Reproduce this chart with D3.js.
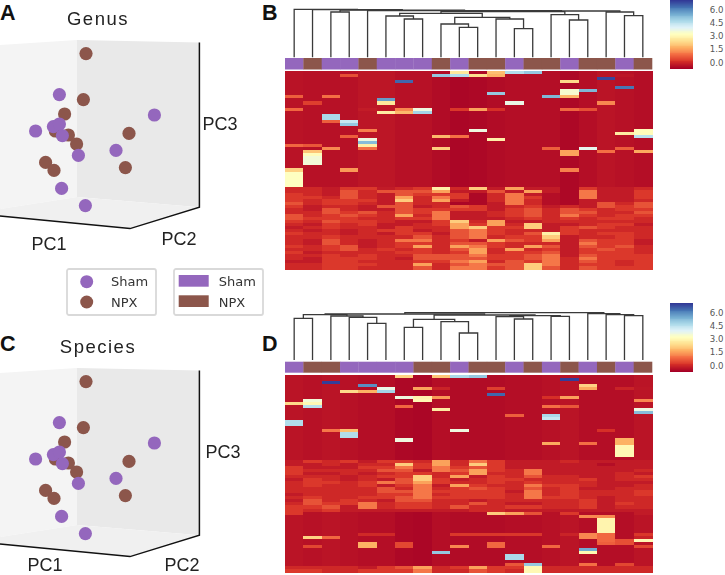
<!DOCTYPE html>
<html><head><meta charset="utf-8">
<script src="https://cdn.jsdelivr.net/npm/d3@7"></script>
<style>html,body{margin:0;padding:0;background:#fff}svg{display:block}.soft{filter:blur(.7px)}.mild{filter:blur(.35px)}</style>
</head><body><div id="chart"></div>
<script>
// ---------- data ----------
const groups = ["Sham", "NPX"];
const groupColors = ["#9467bd", "#8c564b"];
const axisLabels = ["PC1", "PC2", "PC3"];
const colorTicks = [0, 1.5, 3, 4.5, 6];

// projected PCoA coordinates (same in both 3-D panels)
const shamX = [29.7, 77.2, 17.8, 26.7, 29.7, 31.2, 39.2, 58, 30.8, 42.7];
const shamY = [67.7, 57.5, 49.5, 51.7, 53, 47.2, 37.3, 39.8, 20.8, 12.2];
const npxX = [43, 41.7, 32.3, 34.2, 27.7, 38.3, 64.5, 62.7, 22.8, 27];
const npxY = [88.2, 65.2, 58, 47.5, 49.5, 43, 48.3, 31.2, 33.8, 29.8];

// sample group per column (0 Sham, 1 NPX)
const groupsB = [0,1,0,0,1,0,0,0,1,0,1,1,0,1,1,0,1,1,0,1];
const groupsD = [0,1,1,0,0,0,0,1,1,0,1,1,0,1,0,1,0,1,0,1];

// column background abundance
const baseB = [-.35,-.38,-.38,-.38,-.3,-.3,-.38,-.38,-.46,-.56,-.52,-.46,-.42,-.42,-.42,-.52,-.42,-.33,-.38,-.42];
const baseD = [-.33,-.38,-.33,-.38,-.42,-.42,-.52,-.56,-.42,-.46,-.46,-.46,-.42,-.42,-.38,-.33,-.42,-.42,-.42,-.33];

// abundance bands used in the dense lower blocks
const levelValues = [null, -.22, -.02, .22, .55, 1.0, 1.5, 2.1, 2.8];

const denseStartB = 38;
const denseB = [
[2,2,1,3,3,1,2,3,8,2,7,1,6,1,1,0,3,1,1,2],
[2,2,1,4,2,4,4,4,6,1,1,4,1,6,1,0,5,1,1,3],
[3,2,1,4,2,1,4,3,3,3,0,2,5,1,0,0,5,1,1,3],
[3,3,2,4,2,1,6,2,5,3,0,2,5,3,0,0,5,1,1,3],
[3,2,3,3,3,1,7,2,6,1,0,2,5,2,0,0,1,1,1,2],
[4,2,3,3,2,1,4,2,2,0,0,1,5,2,0,0,1,4,2,4],
[3,1,2,2,1,4,4,1,2,4,3,1,2,3,1,2,1,4,3,4],
[2,1,4,2,1,1,4,3,3,3,3,1,3,4,2,4,3,2,3,3],
[2,2,4,3,4,2,4,3,5,1,1,2,3,4,2,4,4,2,2,4],
[4,2,3,4,3,2,6,2,5,1,1,2,3,4,2,5,3,2,3,3],
[4,3,3,3,2,2,3,3,5,1,1,1,2,3,2,3,2,3,3,2],
[3,2,4,3,3,2,1,1,3,7,2,6,1,1,2,2,2,2,2,2],
[2,1,3,2,3,1,1,2,3,6,3,6,2,7,1,1,2,3,3,1],
[1,2,3,2,2,1,3,2,2,6,7,3,3,7,1,3,4,3,2,2],
[2,1,2,1,2,3,3,1,2,4,5,3,2,2,1,3,2,2,2,2],
[3,2,2,1,2,1,3,3,1,4,5,3,2,4,8,3,2,3,3,2],
[2,2,3,2,2,2,2,4,2,4,5,2,3,3,7,1,2,2,3,2],
[2,1,4,2,1,2,5,5,2,3,1,6,4,3,6,1,4,3,3,1],
[2,1,4,2,1,2,3,3,2,4,4,3,2,2,2,1,5,3,3,1],
[3,2,3,4,1,2,3,6,2,6,5,3,2,6,4,1,4,3,4,2],
[2,2,3,4,2,3,2,3,2,4,6,2,6,2,3,1,3,4,3,2],
[3,1,2,2,2,2,3,3,2,3,6,2,3,3,4,1,3,3,3,2],
[2,2,3,2,3,2,2,4,4,4,5,3,3,4,5,1,4,3,3,3],
[2,1,3,3,3,2,1,4,4,4,4,3,3,4,5,2,5,3,3,3],
[1,1,3,3,2,2,2,3,3,5,6,2,4,3,5,2,4,3,2,3],
[2,2,3,3,3,2,2,6,2,4,5,4,4,7,5,2,3,3,2,3],
[2,2,3,3,2,2,2,4,2,5,5,3,4,7,4,2,4,3,3,3]
];
// [row, column, value]
const spotsB = [
[0,9,2.6],[1,9,4.6],[1,10,2.4],[0,11,1.9],[1,11,1.7],[0,12,4.6],[0,13,5],[1,3,.5],[1,8,5],
[3,6,6.4],[3,15,2.3],[2,17,6.8],[1,18,-.3],[5,18,6.2],[6,15,3.4],[7,15,3.4],[8,15,1.8],[6,16,5.3],[7,11,5],[8,14,5.3],[8,0,.7],[8,2,.9],
[9,5,5.7],[10,5,2.6],[13,5,2.7],[10,1,.3],[12,0,.8],[12,4,-.2],[12,6,1.2],[13,6,1.8],[12,7,3.6],[13,7,4.8],[12,9,.2],[12,10,1.5],[12,11,.1],[10,12,3.7],[12,15,.8],[12,16,.5],[10,17,1.2],
[14,2,4.7],[15,2,4.7],[16,2,.7],[16,3,4.3],[17,3,5],[19,4,1.1],[19,10,3.6],[20,18,2.7],[19,19,3.1],[20,19,3.1],[21,19,4.5],[21,3,.7],[21,8,1.8],[21,9,.9],
[22,4,3.6],[23,4,5.2],[24,4,2.8],[25,4,.9],[22,11,2.8],[24,0,.8],[24,1,.6],[25,2,1.2],[25,8,2.1],[25,14,.7],[25,16,3.8],[25,18,.7],[26,15,1.5],[27,15,1.5],[26,17,.9],[26,19,1.6],
[26,1,2],[27,1,3.1],[28,1,3.5],[29,1,3.5],[30,1,3.5],[32,3,1.4],[32,15,1.1],[32,0,2.2],[33,0,3.2],[34,0,3.2],[35,0,3.2],[36,0,3.2],[37,0,3.2]
];

const denseStartD = 28;
const denseD = [
[1,3,2,3,1,3,3,2,6,2,5,3,1,1,1,2,1,1,1,1],
[1,1,2,1,2,2,7,3,6,2,7,3,1,1,1,1,1,0,1,1],
[3,1,1,1,3,3,5,3,5,3,4,3,1,1,1,1,1,1,1,1],
[3,2,2,2,2,4,4,1,5,4,6,3,2,5,1,1,1,1,1,2],
[3,1,1,2,1,2,3,3,2,3,6,2,2,5,1,1,1,1,2,1],
[2,2,2,1,2,3,3,7,2,6,1,3,2,4,2,2,1,1,2,3],
[1,3,2,1,2,1,4,7,3,1,2,3,3,2,2,2,3,1,2,2],
[2,3,3,2,3,5,4,6,3,2,2,3,2,3,2,2,2,1,1,1],
[2,3,2,2,3,1,3,5,1,6,3,2,2,5,3,3,2,1,1,2],
[2,2,2,2,2,4,2,5,2,3,4,3,2,4,2,3,1,1,2,2],
[2,2,2,2,2,4,4,5,3,3,3,3,1,5,2,3,2,2,2,3],
[1,2,2,2,2,3,3,5,2,3,3,3,2,5,2,3,2,2,2,3],
[2,3,2,2,3,3,4,5,3,3,3,3,2,5,3,3,2,1,2,2],
[1,4,2,3,2,1,4,4,2,2,1,2,2,2,2,2,3,1,2,2],
[2,4,3,3,5,2,3,3,2,2,4,2,1,1,2,2,3,1,3,2],
[3,3,4,1,5,2,3,3,2,4,2,2,3,3,2,2,3,1,2,2],
[3,2,3,1,1,1,1,1,1,1,2,2,1,1,1,1,1,1,1,1],
[3,0,0,0,0,0,0,0,0,0,0,7,6,4,0,3,0,0,0,1]
];
const tailStartD = 63;
const tailD = [
[2,2,2,2,1,3,4,6,2,3,6,3,3,3,2,2,2,2,2,2],
[3,3,2,2,3,3,3,5,2,2,4,3,2,3,2,2,2,2,2,2]
];
const spotsD = [
[0,6,2.2],[0,8,2],[0,9,4.7],[0,10,5],[2,2,6.9],[1,15,6.9],[3,16,2.2],[4,16,1.6],[3,4,5.9],[5,4,1.7],[5,3,2.3],[4,5,3.7],[5,5,4.8],[4,7,1.5],[4,8,-.1],[4,11,.3],[4,18,-.1],[4,19,-.3],[6,11,6.4],
[7,6,3.6],[7,7,2.9],[8,7,3],[7,8,1.4],[7,14,.1],[7,15,1.5],[8,19,1.2],[8,1,3.5],[9,1,3],[10,1,4.5],[9,0,2.3],[10,6,.8],[10,14,.9],[10,15,.6],[11,8,2.7],[11,19,3.6],[12,19,5.2],
[13,12,.7],[13,14,4.7],[14,14,4.3],[15,0,4.6],[16,0,4.6],[18,2,1],[18,3,1.9],[19,3,4.6],[20,3,4.6],[18,9,3.6],[18,17,.1],[21,6,3.6],[21,18,1.7],[22,14,1.6],[22,16,.9],[22,18,1.7],
[23,18,3],[24,18,3],[25,18,3],[26,18,3],[46,16,1.2],[46,17,1.2],[47,17,2.9],[48,17,2.9],[49,17,2.9],[50,17,2.9],[51,17,2.9],
[52,4,0],[52,5,0],[52,9,.2],[52,10,.2],[52,11,.2],[52,12,.2],[52,13,.2],[52,15,-.1],[52,16,1.2],[52,17,.8],[52,19,.2],
[53,1,2.2],[53,2,.8],[53,16,1.2],[53,17,.8],[53,19,-.1],[54,17,.8],[54,18,.5],[54,19,3],
[55,4,1.7],[55,6,.4],[55,11,.8],[55,17,.7],[55,18,.5],[56,1,.4],[56,4,1.7],[56,6,.4],[56,9,1.2],[56,11,.8],[56,14,.8],[56,19,.4],
[57,16,5.5],[58,16,3],[58,8,5],[59,12,4.7],[60,12,4.7],[62,13,5],[63,13,3],[64,13,3],[62,12,.6],[62,16,.9],[62,18,.4]
];

// dendrograms: [merge height, left, right]; numbers at leaves are column indices
const treeB = [48,0,[47.7,1,[47.2,[45.3,2,3],[46.7,4,
  [46.3,[45.7,[44,[41.3,5,[38.3,6,7]],[40,[33.3,8,[30,9,10]],[38.3,11,[28.7,12,13]]]],[42.7,14,[37.3,15,16]]],
  [45.3,17,[41.7,18,19]]]]]]];
const treeD = [47.3,[46,[45.3,[41.7,0,1],[44,2,[42.7,3,[36.7,4,5]]]],
  [45,[40.7,[32.7,6,7],[38.3,8,[27,9,10]]],[44.3,[43.3,11,[41,12,13]],[43.7,14,15]]]],
  [46.3,16,[45.3,17,[44.3,18,19]]]];

// ---------- drawing ----------
const svg = d3.select("#chart").append("svg").attr("width",725).attr("height",575);
const rows = d3.range(65), cols = d3.range(20);
const x = d3.scaleBand().domain(cols).range([285,652]);
const color = d3.scaleLinear()
  .domain(d3.range(11).map(i => -.65 + i*.765))
  .range(["#a50026","#d73027","#f46d43","#fdae61","#fee090","#ffffbf","#e0f3f8","#abd9e9","#74add1","#4575b4","#313695"])
  .clamp(true);
const sans = "'Liberation Sans', Arial, sans-serif", dj = "'DejaVu Sans', sans-serif";

function matrix(base, blocks, spots){
  const m = rows.map(() => base.slice());
  blocks.forEach(([start, block]) => block.forEach((row,i) => row.forEach((l,c) => { if(l) m[start+i][c] = levelValues[l]; })));
  spots.forEach(([r,c,v]) => { m[r][c] = v; });
  return m;
}

function tree(g, node, yScale){
  if(typeof node === "number") return {cx: x(node)+x.bandwidth()/2, h:0};
  const a = tree(g,node[1],yScale), b = tree(g,node[2],yScale);
  g.append("path")
    .attr("d", d3.line()([[a.cx,yScale(a.h)],[a.cx,yScale(node[0])],[b.cx,yScale(node[0])],[b.cx,yScale(b.h)]]))
    .attr("fill","none").attr("stroke","#3a3a3a").attr("stroke-width",1.3);
  return {cx:(a.cx+b.cx)/2, h:node[0]};
}

function heat(opts){
  const {treeData, grp, mat, treeTop, barTop, barBottom, heatTop, cbTop} = opts;
  const yT = d3.scaleLinear().domain([0,50]).range([treeTop, treeTop-50]);
  tree(svg.append("g").attr("class","mild"), treeData, yT);
  svg.append("g").attr("class","mild").selectAll("rect").data(grp).join("rect")
    .attr("x",(d,i)=>x(i)).attr("width",x.bandwidth()+.3)
    .attr("y",barTop).attr("height",barBottom-barTop)
    .attr("fill",d=>groupColors[d]);
  const y = d3.scaleBand().domain(rows).range([heatTop,heatTop+198]);
  svg.append("g").attr("class","soft").attr("shape-rendering","crispEdges")
    .selectAll("g").data(mat).join("g")
    .attr("transform",(d,i)=>`translate(0,${y(i)})`)
    .selectAll("rect").data(d=>d).join("rect")
    .attr("x",(d,i)=>x(i)).attr("width",x.bandwidth()+.5)
    .attr("height",y.bandwidth()+.5).attr("fill",d=>color(d));
  // colour bar
  const cy = d3.scaleLinear().domain([0,6]).range([cbTop+61.6,cbTop+8.6]);
  const vals = d3.range(cy.invert(cbTop+67.3), cy.invert(cbTop), .1);
  const cb = svg.append("g").attr("shape-rendering","crispEdges");
  cb.selectAll("rect").data(vals).join("rect")
    .attr("x",670).attr("width",23.3)
    .attr("y",d=>cy(d+.1)).attr("height",d=>cy(d)-cy(d+.1)+.5)
    .attr("fill",d=>color(d));
  const axis = d3.axisRight(cy).tickValues(colorTicks).tickFormat(d3.format(".1f")).tickSize(0).tickPadding(16.5);
  const ag = svg.append("g").attr("transform","translate(693.3,0)").call(axis);
  ag.select(".domain").remove();
  ag.selectAll("text").attr("font-family",dj).attr("font-size",8.6).attr("fill","#555");
}

heat({treeData:treeB, grp:groupsB, mat:matrix(baseB,[[denseStartB,denseB]],spotsB),
      treeTop:57.3, barTop:58, barBottom:69.5, heatTop:71, cbTop:.7});
heat({treeData:treeD, grp:groupsD, mat:matrix(baseD,[[denseStartD,denseD],[tailStartD,tailD]],spotsD),
      treeTop:360, barTop:361.7, barBottom:372.7, heatTop:374.5, cbTop:303.7});

function panel(dy, title, labels){
  const g = svg.append("g").attr("transform",`translate(0,${dy})`).attr("class","mild");
  const sx = d3.scaleLinear().domain([0,100]).range([0,200]);
  const sy = d3.scaleLinear().domain([0,100]).range([230,30]);
  const line = d3.line().x(d=>sx(d[0])).y(d=>sy(d[1]));
  // walls, floor, frame in projected box coordinates
  g.append("path").attr("d",line([[0,92.5],[38.5,95],[38.5,16.5],[0,10.5]])+"Z").attr("fill","#f4f4f4");
  g.append("path").attr("d",line([[38.5,95],[99.7,93.8],[99.7,11.4],[38.5,16.5]])+"Z").attr("fill","#e9e9e9");
  g.append("path").attr("d",line([[0,10.5],[38.5,16.5],[99.7,11.4],[65,.7],[0,7]])+"Z").attr("fill","#f0f0f0");
  g.append("path").attr("d",line([[99.7,93.8],[99.7,11.4],[65,.7],[0,7]])).attr("fill","none").attr("stroke","#111").attr("stroke-width",1.5);
  [[npxX,npxY,1],[shamX,shamY,0]].forEach(([xs,ys,k])=>{
    g.append("g").selectAll("circle").data(xs).join("circle")
      .attr("cx",d=>sx(d)).attr("cy",(d,i)=>sy(ys[i])).attr("r",6.6).attr("fill",groupColors[k]);
  });
  g.append("text").attr("x",98).attr("y",25).attr("text-anchor","middle")
    .attr("font-family",sans).attr("font-size",18.5).attr("letter-spacing",1.5).attr("fill","#222").text(title);
  labels.forEach(([t,lx,ly])=>g.append("text").attr("x",lx).attr("y",ly).attr("text-anchor","middle")
    .attr("font-family",sans).attr("font-size",18).attr("fill","#222").text(t));
}
panel(0,"Genus",[[axisLabels[0],49,250],[axisLabels[1],179,245],[axisLabels[2],220,130]]);
panel(328,"Species",[[axisLabels[0],45,243],[axisLabels[1],182,243],[axisLabels[2],223,130]]);

[["A",0,19.5],["B",262,19.5],["C",0,350.5],["D",262,350.5]].forEach(([t,lx,ly])=>
  svg.append("text").attr("x",lx).attr("y",ly).attr("font-family",sans).attr("font-weight","bold")
    .attr("font-size",21.5).attr("fill","#111").text(t));

// legends
function legend(lx, circles){
  const g = svg.append("g").attr("transform",`translate(${lx},269)`).attr("class","mild");
  g.append("rect").attr("width",89).attr("height",46).attr("rx",2).attr("fill","#fff").attr("stroke","#d9d9d9").attr("stroke-width",1.8);
  groups.forEach((name,i)=>{
    const ry = 13 + i*20.3;
    if(circles) g.append("circle").attr("cx",19.7).attr("cy",ry-.3).attr("r",6.5).attr("fill",groupColors[i]);
    else g.append("rect").attr("x",4.7).attr("y",ry-7).attr("width",30).attr("height",11.7).attr("fill",groupColors[i]);
    g.append("text").attr("x",circles?44:44.7).attr("y",ry+4.3).attr("font-family",dj).attr("font-size",13).attr("fill","#333").text(name);
  });
}
legend(67,true);
legend(174,false);
</script></body></html>
